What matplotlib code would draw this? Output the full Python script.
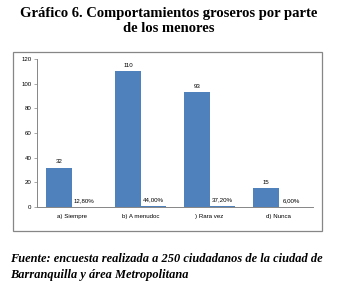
import numpy as np
import matplotlib
matplotlib.use("Agg")
import matplotlib.pyplot as plt
from matplotlib.patches import Rectangle

categorias = ["a) Siempre", "b) A menudoc", ") Rara vez", "d) Nunca"]
frecuencia = [32, 110, 93, 15]
porcentaje = [0.128, 0.44, 0.372, 0.06]
etiquetas_pct = ["12,80%", "44,00%", "37,20%", "6,00%"]

azul = "#4F81BD"
gris = "#868686"

fig = plt.figure(figsize=(3.38, 2.87), dpi=100)
ax = fig.add_axes([0.1095, 0.279, 0.817, 0.515])

x = np.arange(len(categorias))
ancho = 0.365
ax.bar(x - ancho / 2, frecuencia, width=ancho, color=azul)
ax.bar(x + ancho / 2, porcentaje, width=ancho, color=azul)

for xi, v in zip(x, frecuencia):
    ax.text(xi - ancho / 2, v + 3, str(v), ha="center", va="bottom",
            fontsize=4.4, family="Liberation Sans")
for xi, v, t in zip(x, porcentaje, etiquetas_pct):
    ax.text(xi + ancho / 2, v + 3, t, ha="center", va="bottom",
            fontsize=4.4, family="Liberation Sans")

ax.set_xlim(-0.5, len(categorias) - 0.5)
ax.set_ylim(0, 120)
ax.set_yticks(range(0, 121, 20))
ax.set_xticks(x)
ax.set_xticklabels(categorias)
ax.tick_params(axis="both", labelsize=4.4, length=2, width=0.5, color=gris, pad=2)
ax.tick_params(axis="x", length=0, pad=5)
for lab in ax.get_xticklabels() + ax.get_yticklabels():
    lab.set_family("Liberation Sans")
for s in ["top", "right"]:
    ax.spines[s].set_visible(False)
for s in ["left", "bottom"]:
    ax.spines[s].set_color(gris)
    ax.spines[s].set_linewidth(0.7)

# marco del grafico
fig.patches.append(Rectangle((13 / 338, 1 - 231 / 287), 309 / 338, 179 / 287,
                             transform=fig.transFigure, fill=False,
                             edgecolor=gris, linewidth=0.9))

fig.text(0.5, 1 - 14 / 287, "Gráfico 6. Comportamientos groseros por parte",
         ha="center", va="center", fontsize=10.5, fontweight="bold",
         family="Liberation Serif")
fig.text(0.5, 1 - 29 / 287, "de los menores",
         ha="center", va="center", fontsize=10.5, fontweight="bold",
         family="Liberation Serif")

fig.text(10 / 338, 1 - 259 / 287,
         "Fuente: encuesta realizada a 250 ciudadanos de la ciudad de",
         ha="left", va="center", fontsize=8.9, style="italic",
         fontweight="bold", family="Liberation Serif")
fig.text(10 / 338, 1 - 275 / 287,
         "Barranquilla y área Metropolitana",
         ha="left", va="center", fontsize=8.9, style="italic",
         fontweight="bold", family="Liberation Serif")

fig.savefig("out.png", dpi=100)
